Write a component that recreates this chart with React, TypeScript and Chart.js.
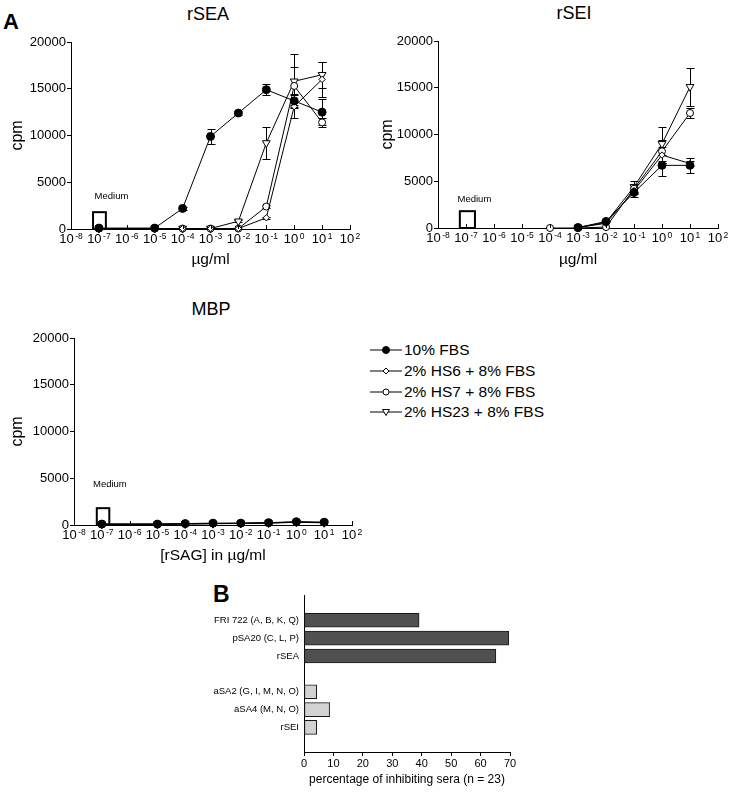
import React, { useEffect, useRef } from 'react';
import { Chart, registerables } from 'chart.js';

Chart.register(...registerables);

const FONT = '"Liberation Sans", Arial, Helvetica, sans-serif';
Chart.defaults.font.family = FONT;
Chart.defaults.color = '#000';

// ---------------- DATA ----------------
const seriesNames = ['10% FBS', '2% HS6 + 8% FBS', '2% HS7 + 8% FBS', '2% HS23 + 8% FBS'];

// x-axis tick exponents (10^n)
const xTickExponents = [-8, -7, -6, -5, -4, -3, -2, -1, 0, 1, 2];
const yTicks = [0, 5000, 10000, 15000, 20000];

// rSEA panel
const rseaConc = [1e-7, 1e-5, 1e-4, 1e-3, 1e-2, 1e-1, 1, 10];
const rseaFBS = [100, 100, 2200, 9900, 12400, 14900, 13700, 12500];
const rseaFBSErr = [0, 0, 150, 800, 200, 600, 700, 1400];
const rseaHS6 = [50, 50, 50, 50, 50, 1200, 13100, 16000];
const rseaHS6Err = [0, 0, 0, 0, 0, 100, 1200, 1900];
const rseaHS7 = [50, 50, 50, 50, 50, 2400, 15300, 11400];
const rseaHS7Err = [0, 0, 0, 0, 0, 200, 2000, 500];
const rseaHS23 = [50, 50, 50, 50, 830, 9200, 15800, 16500];
const rseaHS23Err = [0, 0, 0, 0, 100, 1700, 2900, 1400];

// rSEI panel
const rseiConc = [1e-4, 1e-3, 1e-2, 1e-1, 1, 10];
const rseiFBS = [null, 50, 700, 3800, 6700, 6700];
const rseiFBSErr = [0, 0, 100, 500, 1100, 800];
const rseiHS6 = [null, 50, 500, 4000, 7800, 6900];
const rseiHS6Err = [0, 0, 0, 400, 900, 300];
const rseiHS7 = [0, 0, 100, 4200, 8200, 12300];
const rseiHS7Err = [0, 0, 0, 500, 1200, 500];
const rseiHS23 = [null, 50, 600, 4400, 9000, 15100];
const rseiHS23Err = [0, 0, 0, 600, 1800, 2000];

// MBP panel
const mbpConc = [1e-7, 1e-5, 1e-4, 1e-3, 1e-2, 1e-1, 1, 10];
const mbpFBS = [100, 100, 150, 200, 200, 250, 350, 300];
const mbpHS6 = [80, 80, 120, 150, 170, 220, 300, 250];
const mbpHS7 = [90, 90, 130, 160, 180, 230, 320, 280];
const mbpHS23 = [70, 70, 110, 140, 160, 210, 280, 240];
const mbpErr = [0, 0, 0, 0, 0, 0, 0, 0];

// Panel B
const panelBCategories = ['FRI 722 (A, B, K, Q)', 'pSA20 (C, L, P)', 'rSEA', '', 'aSA2 (G, I, M, N, O)', 'aSA4 (M, N, O)', 'rSEI'];
const panelBValues = [39.1, 69.6, 65.2, null, 4.3, 8.7, 4.3];

// ---------------- STYLES ----------------
const seriesStyles = [
  { pointStyle: 'circle', radius: 4, fill: '#000', rotation: 0 },
  { pointStyle: 'rectRot', radius: 3.2, fill: '#fff', rotation: 0 },
  { pointStyle: 'circle', radius: 3.5, fill: '#fff', rotation: 0 },
  { pointStyle: 'triangle', radius: 4.5, fill: '#fff', rotation: 180 },
];

function buildDatasets(conc: number[], vals: (number | null)[][], errs: number[][]) {
  return vals.map((v, i) => {
    const st = seriesStyles[i];
    return {
      label: seriesNames[i],
      data: conc.map((c, j) => ({ x: Math.log10(c), y: v[j] })),
      errors: errs[i],
      borderColor: '#000',
      borderWidth: 1,
      pointStyle: st.pointStyle,
      pointRadius: st.radius,
      pointBackgroundColor: st.fill,
      pointBorderColor: '#000',
      pointBorderWidth: 1,
      pointRotation: st.rotation,
      tension: 0,
      fill: false,
      clip: false,
    };
  });
}

const errorBarPlugin = {
  id: 'errorBars',
  beforeDatasetsDraw(chart: any) {
    const ys = chart.scales.y;
    const ctx = chart.ctx;
    ctx.save();
    ctx.strokeStyle = '#000';
    ctx.lineWidth = 1;
    chart.data.datasets.forEach((ds: any, di: number) => {
      const meta = chart.getDatasetMeta(di);
      (ds.errors || []).forEach((e: number, j: number) => {
        const pt = ds.data[j];
        if (!e || !pt || pt.y == null) return;
        const el = meta.data[j];
        const x = Math.round(el.x) + 0.5;
        const y1 = Math.round(ys.getPixelForValue(pt.y + e)) + 0.5;
        const y2 = Math.round(ys.getPixelForValue(Math.max(0, pt.y - e))) + 0.5;
        ctx.beginPath();
        ctx.moveTo(x, y1);
        ctx.lineTo(x, y2);
        ctx.moveTo(x - 4, y1);
        ctx.lineTo(x + 4, y1);
        ctx.moveTo(x - 4, y2);
        ctx.lineTo(x + 4, y2);
        ctx.stroke();
      });
    });
    ctx.restore();
  },
};

// inward x ticks + "10^n" labels with raised exponents
const powerAxisPlugin = {
  id: 'powerAxis',
  afterDraw(chart: any) {
    const xs = chart.scales.x;
    const b = chart.chartArea.bottom;
    const ctx = chart.ctx;
    ctx.save();
    ctx.strokeStyle = '#000';
    ctx.lineWidth = 1;
    ctx.beginPath();
    xs.ticks.forEach((t: any) => {
      const px = Math.round(xs.getPixelForValue(t.value)) + 0.5;
      ctx.moveTo(px, b);
      ctx.lineTo(px, b - 4);
    });
    ctx.stroke();
    ctx.fillStyle = '#000';
    ctx.textBaseline = 'alphabetic';
    ctx.textAlign = 'left';
    xs.ticks.forEach((t: any) => {
      const px = xs.getPixelForValue(t.value);
      const exp = String(t.value);
      ctx.font = '13px ' + FONT;
      const w1 = ctx.measureText('10').width;
      ctx.font = '8.5px ' + FONT;
      const w2 = ctx.measureText(exp).width;
      const gap = 1.5;
      const start = px - (w1 + gap + w2) / 2;
      ctx.font = '13px ' + FONT;
      ctx.fillText('10', start, b + 14.3);
      ctx.font = '8.5px ' + FONT;
      ctx.fillText(exp, start + w1 + gap, b + 9.8);
    });
    ctx.restore();
  },
};

function mediumPlugin(cfg: { conc: number; boxLeft: number; boxRight: number; boxTop: number; labelDx: number; labelY: number }) {
  return {
    id: 'mediumBox',
    beforeDatasetsDraw(chart: any) {
      const { x, y } = chart.scales;
      const ctx = chart.ctx;
      const c = Math.log10(cfg.conc);
      const l = x.getPixelForValue(c + cfg.boxLeft);
      const r = x.getPixelForValue(c + cfg.boxRight);
      const t = y.getPixelForValue(cfg.boxTop);
      const b = y.getPixelForValue(0);
      ctx.save();
      ctx.strokeStyle = '#000';
      ctx.lineWidth = 2;
      ctx.strokeRect(l, t, r - l, b - t);
      ctx.fillStyle = '#000';
      ctx.font = '9.5px ' + FONT;
      ctx.textAlign = 'center';
      ctx.textBaseline = 'middle';
      ctx.fillText('Medium', x.getPixelForValue(c + cfg.labelDx), y.getPixelForValue(cfg.labelY));
      ctx.restore();
    },
  };
}

type DoseProps = {
  left: number; top: number; width: number; height: number;
  padTop: number; padRight: number; yW: number; xH: number;
  xTitle: string; xTitlePad: number; yTitlePad: number;
  datasets: any[]; medium: any;
};

function DoseChart(p: DoseProps) {
  const ref = useRef<HTMLCanvasElement>(null);
  useEffect(() => {
    const chart = new Chart(ref.current as HTMLCanvasElement, {
      type: 'line',
      data: { datasets: p.datasets },
      options: {
        animation: false,
        responsive: false,
        maintainAspectRatio: false,
        layout: { padding: { top: p.padTop, right: p.padRight, left: 0, bottom: 0 } },
        plugins: { legend: { display: false }, tooltip: { enabled: false } },
        scales: {
          x: {
            type: 'linear',
            min: -8,
            max: 2,
            afterBuildTicks: (s: any) => { s.ticks = xTickExponents.map((v) => ({ value: v })); },
            afterFit: (s: any) => { s.height = p.xH; },
            ticks: { display: false },
            grid: { display: false, drawTicks: false },
            border: { display: true, color: '#000', width: 1 },
            title: { display: true, text: p.xTitle, font: { size: 15.5 }, padding: { top: 0, bottom: p.xTitlePad } },
          },
          y: {
            type: 'linear',
            min: 0,
            max: 20000,
            afterBuildTicks: (s: any) => { s.ticks = yTicks.map((v) => ({ value: v })); },
            afterFit: (s: any) => { s.width = p.yW; },
            ticks: { font: { size: 13 }, padding: 1, callback: (v: any) => String(v) },
            grid: { display: true, drawOnChartArea: false, drawTicks: true, tickLength: 4, color: '#000' },
            border: { display: true, color: '#000', width: 1 },
            title: { display: true, text: 'cpm', font: { size: 16 }, padding: { top: p.yTitlePad, bottom: 0 } },
          },
        },
      } as any,
      plugins: [errorBarPlugin, mediumPlugin(p.medium), powerAxisPlugin],
    });
    return () => chart.destroy();
  }, []);
  return (
    <canvas ref={ref} width={p.width} height={p.height}
      style={{ position: 'absolute', left: p.left, top: p.top, width: p.width, height: p.height }} />
  );
}

function BarChartB() {
  const ref = useRef<HTMLCanvasElement>(null);
  useEffect(() => {
    const pts: any[] = [];
    const colors: string[] = [];
    panelBValues.forEach((v, i) => {
      if (v == null) return;
      pts.push({ x: v, y: i });
      colors.push(i < 3 ? '#505050' : '#d2d2d2');
    });
    const chart = new Chart(ref.current as HTMLCanvasElement, {
      type: 'bar',
      data: {
        datasets: [{
          data: pts,
          backgroundColor: colors,
          borderColor: '#1a1a1a',
          borderWidth: 1,
          borderSkipped: false,
          barThickness: 14,
        }],
      },
      options: {
        indexAxis: 'y',
        animation: false,
        responsive: false,
        maintainAspectRatio: false,
        layout: { padding: { top: 10, right: 50, left: 0, bottom: 0 } },
        plugins: { legend: { display: false }, tooltip: { enabled: false } },
        scales: {
          x: {
            type: 'linear',
            position: 'bottom',
            min: 0,
            max: 70,
            afterFit: (s: any) => { s.height = 47; },
            ticks: { stepSize: 10, font: { size: 11 }, padding: 1 },
            grid: { display: true, drawOnChartArea: false, drawTicks: true, tickLength: 4, color: '#000' },
            border: { display: true, color: '#000', width: 1 },
            title: { display: true, text: 'percentage of inhibiting sera (n = 23)', font: { size: 12 }, padding: { top: 0, bottom: 12 } },
          },
          y: {
            type: 'linear',
            min: -0.75,
            max: 6.75,
            reverse: true,
            afterBuildTicks: (s: any) => { s.ticks = panelBCategories.map((_, i) => ({ value: i })); },
            afterFit: (s: any) => { s.width = 124; },
            ticks: { autoSkip: false, font: { size: 9.5 }, padding: 5, callback: (v: any) => panelBCategories[Number(v)] ?? '' },
            grid: { display: false, drawTicks: false },
            border: { display: true, color: '#000', width: 1 },
          },
        },
      } as any,
    });
    return () => chart.destroy();
  }, []);
  return (
    <canvas ref={ref} width={380} height={214}
      style={{ position: 'absolute', left: 180, top: 585, width: 380, height: 214 }} />
  );
}

function Label(props: { x: number; y: number; size: number; bold?: boolean; center?: boolean; children: any }) {
  const { x, y, size, bold, center, children } = props;
  return (
    <div style={{
      position: 'absolute', left: x, top: y - 0.8465 * size, fontSize: size, lineHeight: `${size}px`,
      fontWeight: bold ? 'bold' : 'normal', whiteSpace: 'nowrap', fontFamily: FONT, color: '#000',
      transform: center ? 'translateX(-50%)' : undefined,
    }}>{children}</div>
  );
}

function LegendMarker({ i }: { i: number }) {
  const cx = 16, cy = 7;
  let marker: any = null;
  if (i === 0) marker = <circle cx={cx} cy={cy} r={3.5} fill="#000" stroke="#000" />;
  if (i === 1) marker = <polygon points={`${cx},${cy - 3} ${cx + 3},${cy} ${cx},${cy + 3} ${cx - 3},${cy}`} fill="#fff" stroke="#000" strokeWidth={1} />;
  if (i === 2) marker = <circle cx={cx} cy={cy} r={3} fill="#fff" stroke="#000" strokeWidth={1} />;
  if (i === 3) marker = <polygon points={`${cx - 3.5},${cy - 2.5} ${cx + 3.5},${cy - 2.5} ${cx},${cy + 3.5}`} fill="#fff" stroke="#000" strokeWidth={1} />;
  return (
    <svg width={34} height={14} style={{ display: 'block' }}>
      <line x1={0} y1={cy} x2={32} y2={cy} stroke="#000" strokeWidth={1} />
      {marker}
    </svg>
  );
}

export default function App() {
  const rseaSets = buildDatasets(rseaConc, [rseaFBS, rseaHS6, rseaHS7, rseaHS23], [rseaFBSErr, rseaHS6Err, rseaHS7Err, rseaHS23Err]);
  const rseiSets = buildDatasets(rseiConc, [rseiFBS, rseiHS6, rseiHS7, rseiHS23], [rseiFBSErr, rseiHS6Err, rseiHS7Err, rseiHS23Err]);
  const mbpSets = buildDatasets(mbpConc, [mbpFBS, mbpHS6, mbpHS7, mbpHS23], [mbpErr, mbpErr, mbpErr, mbpErr]);
  const legendBaselines = [355, 376, 397, 417];

  return (
    <div style={{ position: 'absolute', left: 0, top: 0, width: 730, height: 799, background: '#fff', overflow: 'hidden' }}>
      <Label x={3} y={30} size={22} bold>A</Label>
      <Label x={213} y={602} size={23} bold>B</Label>

      <Label x={208} y={20} size={18} center>rSEA</Label>
      <Label x={574} y={19} size={18} center>rSEI</Label>
      <Label x={211} y={315} size={18} center>MBP</Label>

      <DoseChart left={0} top={0} width={365} height={280} padTop={42} padRight={15} yW={71} xH={51}
        xTitle="µg/ml" xTitlePad={10.7} yTitlePad={8} datasets={rseaSets}
        medium={{ conc: 1e-7, boxLeft: -0.21, boxRight: 0.25, boxTop: 1800, labelDx: 0.45, labelY: 3500 }} />
      <DoseChart left={370} top={0} width={360} height={280} padTop={41} padRight={12} yW={68} xH={52}
        xTitle="µg/ml" xTitlePad={11.2} yTitlePad={8} datasets={rseiSets}
        medium={{ conc: 1e-7, boxLeft: -0.22, boxRight: 0.32, boxTop: 1800, labelDx: 0.3, labelY: 3100 }} />
      <DoseChart left={0} top={300} width={365} height={270} padTop={38} padRight={13} yW={74} xH={45}
        xTitle="[rSAG] in µg/ml" xTitlePad={5.2} yTitlePad={8} datasets={mbpSets}
        medium={{ conc: 1e-7, boxLeft: -0.18, boxRight: 0.27, boxTop: 1800, labelDx: 0.29, labelY: 4380 }} />

      {seriesNames.map((name, i) => (
        <div key={name}>
          <div style={{ position: 'absolute', left: 370, top: legendBaselines[i] - 5.5 - 7 }}>
            <LegendMarker i={i} />
          </div>
          <Label x={404} y={legendBaselines[i]} size={15.5}>{name}</Label>
        </div>
      ))}

      <BarChartB />
    </div>
  );
}
